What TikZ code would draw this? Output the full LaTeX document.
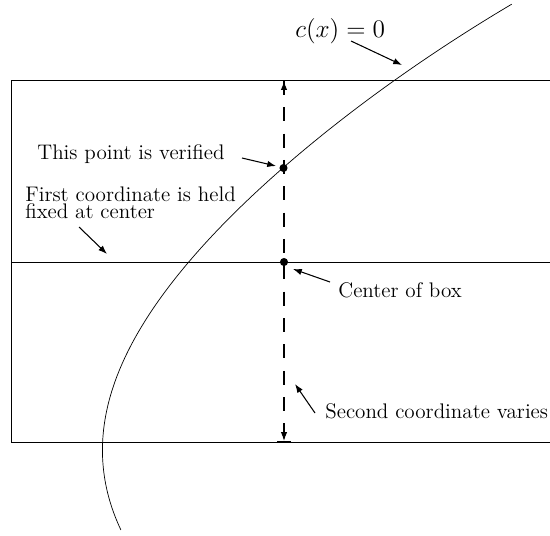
\documentclass[tikz,border=0pt]{standalone}
\usetikzlibrary{arrows.meta}

\tikzset{
  note/.style={anchor=base west, inner sep=0pt, font=\large},
  pointer/.style={-{Latex[length=5pt,width=3.6pt]}, line width=0.6pt},
  span/.style={dash pattern=on 8pt off 7pt, line width=0.6pt,
    {Bar[width=8pt]Latex[length=5pt,width=3.6pt]}-{Latex[length=5pt,width=3.6pt]Bar[width=8pt]}},
  dot/.style={circle, fill, inner sep=0pt, minimum size=4.6pt}
}

\begin{document}
\begin{tikzpicture}
  \useasboundingbox (0,0) rectangle (11,-10.7);

  % Box (right side runs off the page)
  \draw[line width=0.5pt] (11.5,-1.6) -- (0.22,-1.6) -- (0.22,-8.84) -- (11.5,-8.84);
  \draw[line width=0.5pt] (0.22,-5.24) -- (11.5,-5.24);

  % Curve c(x) = 0
  \draw[line width=0.4pt] plot[domain=-0.75:4.51, samples=120, smooth, variable=\v]
    ({(102.5 + 28.096*(\v)*(\v) - 1.634*(\v)*(\v)*(\v) - 2.676*(\v)
       - 0.0427*(\v)*(\v)*(\v)*(\v)*(4.51-(\v)))/50}, {2*(\v) - 9.1});

  % Points on the vertical line
  \node[dot] (ver) at (5.67,-3.36) {};
  \node[dot] (ctr) at (5.68,-5.24) {};
  \coordinate (top) at (5.68,-1.6);
  \coordinate (bot) at (5.68,-8.84);
  \draw[span] (top) -- (bot);

  % Labels
  \node[anchor=base west, inner sep=0pt, font=\Large] (eq) at (5.9,-0.74) {$c(x) = 0$};
  \node[note] (vtext) at (0.74,-3.18) {This point is verified};
  \node[note, anchor=north west, align=left] (ftext) at (0.5,-3.73)
    {First coordinate is held\\[-4.3pt]fixed at center};
  \node[note] (ctext) at (6.76,-5.94) {Center of box};
  \node[note] (stext) at (6.5,-8.36) {Second coordinate varies};

  % Arrow ends
  \coordinate (a1) at (7.02,-0.82);  \coordinate (b1) at (8.04,-1.3);
  \coordinate (a2) at (4.84,-3.16);  \coordinate (b2) at (5.52,-3.32);
  \coordinate (a3) at (1.58,-4.54);  \coordinate (b3) at (2.14,-5.08);
  \coordinate (a4) at (6.6,-5.64);   \coordinate (b4) at (5.86,-5.38);
  \coordinate (a5) at (6.3,-8.26);   \coordinate (b5) at (5.9,-7.68);

  % Pointers
  \draw[pointer] (a1) -- (b1);
  \draw[pointer] (a2) -- (b2);
  \draw[pointer] (a3) -- (b3);
  \draw[pointer] (a4) -- (b4);
  \draw[pointer] (a5) -- (b5);
\end{tikzpicture}
\end{document}
